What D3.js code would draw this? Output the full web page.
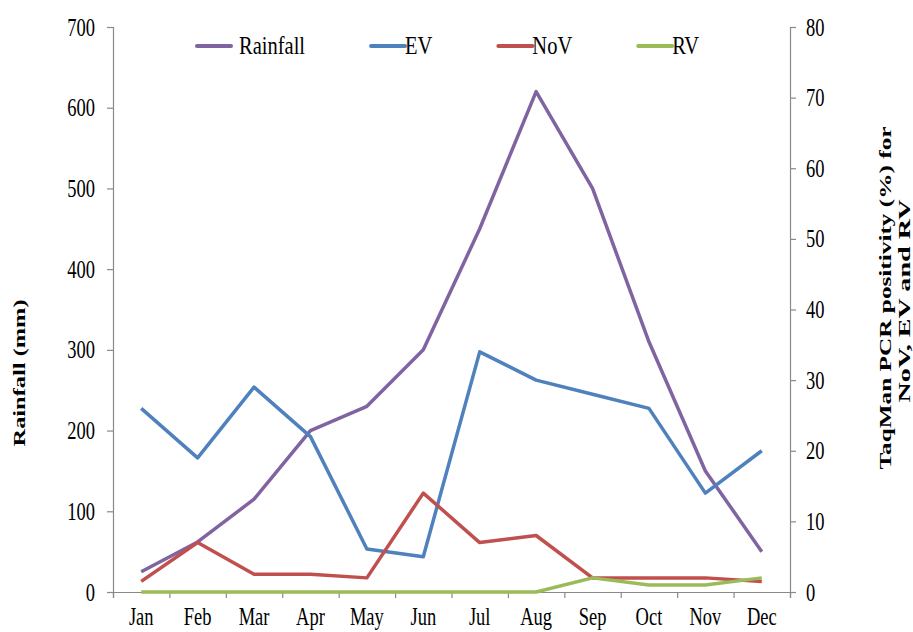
<!DOCTYPE html>
<html>
<head>
<meta charset="utf-8">
<script src="https://cdn.jsdelivr.net/npm/d3@7"></script>
<style>
  body { margin: 0; background: #fff; }
  text { font-family: "Liberation Serif", "Times New Roman", serif; fill: #000; }
</style>
</head>
<body>
<svg id="chart"></svg>
<script>
// months on the x axis
const months = ["Jan", "Feb", "Mar", "Apr", "May", "Jun", "Jul", "Aug", "Sep", "Oct", "Nov", "Dec"];
// rainfall in mm (left axis)
const rainfall = [25, 62, 115, 200, 230, 300, 450, 620, 500, 310, 150, 50];
// TaqMan PCR positivity in % (right axis)
const ev = [26, 19, 29, 22, 6.1, 5, 34, 30, 28, 26, 14, 20];
const nov = [1.5, 7, 2.5, 2.5, 2, 14, 7, 8, 2, 2, 2, 1.5];
const rv = [0, 0, 0, 0, 0, 0, 0, 0, 2, 1, 1, 2];
// axis ticks
const leftTicks = [0, 100, 200, 300, 400, 500, 600, 700];
const rightTicks = [0, 10, 20, 30, 40, 50, 60, 70, 80];
// legend names
const seriesNames = ["Rainfall", "EV", "NoV", "RV"];

const width = 913, height = 632;
const plotLeft = 113, plotRight = 790, plotTop = 27, plotBottom = 592;
const sx = 0.74;      // tick text is narrow in the original picture
const legendSx = 0.82;
const axisColor = "#898989";
const colors = { Rainfall: "#8064A2", EV: "#4F81BD", NoV: "#C0504D", RV: "#9BBB59" };

const svg = d3.select("#chart").attr("width", width).attr("height", height);

const x = d3.scaleBand().domain(months).range([plotLeft, plotRight]);
const xEdges = d3.scaleLinear().domain([0, months.length]).range([plotLeft, plotRight]);
const yLeft = d3.scaleLinear().domain([0, 700]).range([plotBottom, plotTop]);
const yRight = d3.scaleLinear().domain([0, 80]).range([plotBottom, plotTop]);

// left axis
const gL = svg.append("g")
  .attr("transform", `translate(${plotLeft},0)`)
  .call(d3.axisLeft(yLeft).tickValues(leftTicks).tickSize(6).tickFormat(d3.format("d")));
gL.selectAll("text")
  .attr("x", -18 / sx)
  .attr("transform", `scale(${sx},1)`)
  .style("font-size", "25px");

// right axis
const gR = svg.append("g")
  .attr("transform", `translate(${plotRight},0)`)
  .call(d3.axisRight(yRight).tickValues(rightTicks).tickSize(6).tickFormat(d3.format("d")));
gR.selectAll("text")
  .attr("x", 16 / sx)
  .attr("transform", `scale(${sx},1)`)
  .style("font-size", "25px");

// x axis: tick marks between months, labels centred
const gX = svg.append("g")
  .attr("transform", `translate(0,${plotBottom})`)
  .call(d3.axisBottom(xEdges).ticks(months.length).tickSize(6).tickFormat(""));
svg.append("g")
  .attr("transform", `translate(0,${plotBottom})`)
  .call(d3.axisBottom(x).tickSize(0))
  .call(g => g.select(".domain").remove())
  .selectAll("text")
  .attr("y", 33)
  .attr("dy", 0)
  .attr("x", 0)
  .attr("transform", `scale(${sx},1)`)
  .style("font-size", "25px");

[gL, gR, gX].forEach(g => {
  g.selectAll(".domain, line").attr("stroke", axisColor).attr("stroke-width", 1.2);
});

// lines
const lineLeft = d3.line().x((d, i) => x(months[i]) + x.bandwidth() / 2).y(d => yLeft(d));
const lineRight = d3.line().x((d, i) => x(months[i]) + x.bandwidth() / 2).y(d => yRight(d));

const seriesData = [
  { name: "Rainfall", values: rainfall, line: lineLeft },
  { name: "EV", values: ev, line: lineRight },
  { name: "NoV", values: nov, line: lineRight },
  { name: "RV", values: rv, line: lineRight }
];

svg.selectAll(".series")
  .data(seriesData)
  .enter()
  .append("path")
  .attr("class", "series")
  .attr("fill", "none")
  .attr("stroke", d => colors[d.name])
  .attr("stroke-width", 3.5)
  .attr("stroke-linejoin", "round")
  .attr("d", d => d.line(d.values));

// legend, items laid out one after another
let lx = 197;
seriesNames.forEach((name, i) => {
  const g = svg.append("g");
  g.append("line")
    .attr("x1", lx).attr("x2", lx + 34)
    .attr("y1", 46).attr("y2", 46)
    .attr("stroke", colors[name])
    .attr("stroke-width", 4)
    .attr("stroke-linecap", "round");
  const tx = lx + (i === 0 ? 42 : 34);
  const t = g.append("text")
    .attr("x", tx / legendSx)
    .attr("y", 54)
    .attr("transform", `scale(${legendSx},1)`)
    .style("font-size", "25px")
    .text(name);
  lx = tx + t.node().getComputedTextLength() * legendSx + 66;
});

// axis titles
svg.append("text")
  .attr("transform", `translate(25,373) rotate(-90) scale(1,${sx})`)
  .attr("text-anchor", "middle")
  .attr("textLength", 147)
  .attr("lengthAdjust", "spacingAndGlyphs")
  .style("font-size", "24px")
  .style("font-weight", "bold")
  .text("Rainfall  (mm)");

svg.append("text")
  .attr("transform", `translate(891,298) rotate(-90) scale(1,${sx})`)
  .attr("text-anchor", "middle")
  .attr("textLength", 343)
  .attr("lengthAdjust", "spacingAndGlyphs")
  .style("font-size", "24px")
  .style("font-weight", "bold")
  .text("TaqMan PCR positivity  (%) for");

svg.append("text")
  .attr("transform", `translate(910,301) rotate(-90) scale(1,${sx})`)
  .attr("text-anchor", "middle")
  .attr("textLength", 203)
  .attr("lengthAdjust", "spacingAndGlyphs")
  .style("font-size", "24px")
  .style("font-weight", "bold")
  .text("NoV, EV and RV");
</script>
</body>
</html>
